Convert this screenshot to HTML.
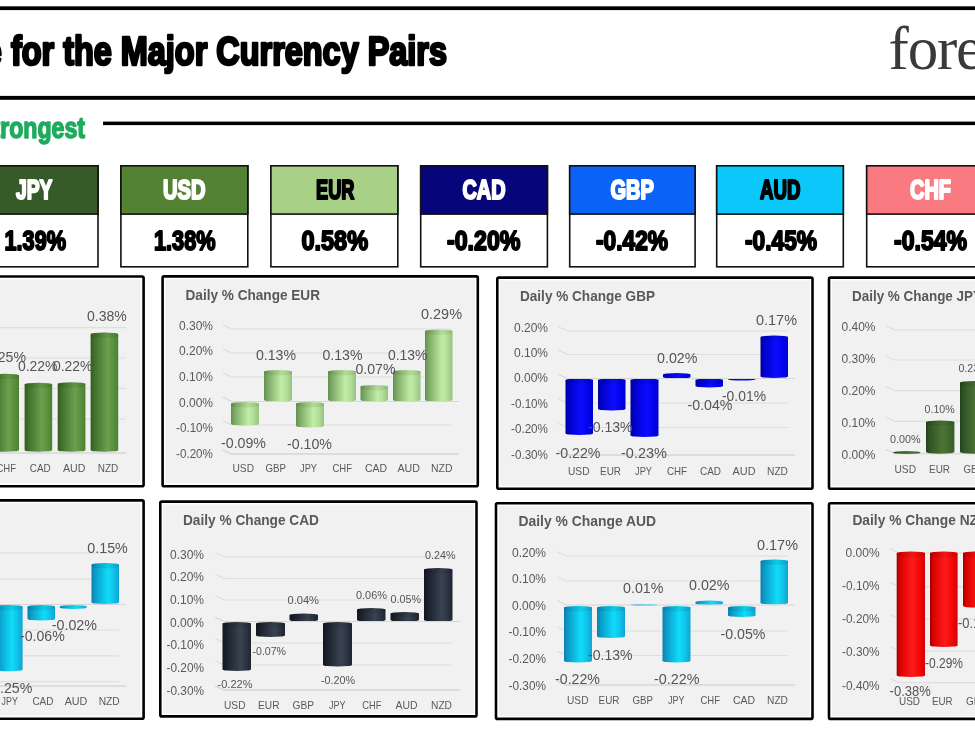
<!DOCTYPE html>
<html lang="en"><head><meta charset="utf-8"><title>Forex strongest to weakest</title>
<style>
html,body{margin:0;padding:0;background:#fff;}
body{width:975px;height:732px;overflow:hidden;font-family:"Liberation Sans",sans-serif;}
svg{display:block;font-family:"Liberation Sans",sans-serif;}
</style></head><body>
<svg width="975" height="732" viewBox="0 0 975 732">
<defs>
<linearGradient id="g_usd" x1="0" x2="1" y1="0" y2="0"><stop offset="0" stop-color="#345c20"/><stop offset="0.12" stop-color="#3f6e29"/><stop offset="0.62" stop-color="#6aa04e"/><stop offset="0.8" stop-color="#5c9340"/><stop offset="1" stop-color="#4c8030"/></linearGradient>
<linearGradient id="g_eur" x1="0" x2="1" y1="0" y2="0"><stop offset="0" stop-color="#648f50"/><stop offset="0.14" stop-color="#7dab66"/><stop offset="0.62" stop-color="#c1eda7"/><stop offset="0.8" stop-color="#b3df9a"/><stop offset="1" stop-color="#98c280"/></linearGradient>
<linearGradient id="g_gbp" x1="0" x2="1" y1="0" y2="0"><stop offset="0" stop-color="#00009a"/><stop offset="0.12" stop-color="#0000c8"/><stop offset="0.58" stop-color="#0c0cff"/><stop offset="0.8" stop-color="#0404ee"/><stop offset="1" stop-color="#0000d0"/></linearGradient>
<linearGradient id="g_jpy" x1="0" x2="1" y1="0" y2="0"><stop offset="0" stop-color="#22401a"/><stop offset="0.12" stop-color="#305424"/><stop offset="0.58" stop-color="#4b7535"/><stop offset="0.8" stop-color="#42692e"/><stop offset="1" stop-color="#375c27"/></linearGradient>
<linearGradient id="g_cyan" x1="0" x2="1" y1="0" y2="0"><stop offset="0" stop-color="#0a7fae"/><stop offset="0.12" stop-color="#0c98c6"/><stop offset="0.6" stop-color="#10dcf9"/><stop offset="0.8" stop-color="#10c4ec"/><stop offset="1" stop-color="#10a4d4"/></linearGradient>
<linearGradient id="g_cad" x1="0" x2="1" y1="0" y2="0"><stop offset="0" stop-color="#10151d"/><stop offset="0.12" stop-color="#1a202b"/><stop offset="0.63" stop-color="#394351"/><stop offset="0.8" stop-color="#2e3744"/><stop offset="1" stop-color="#1e2530"/></linearGradient>
<linearGradient id="g_nzd" x1="0" x2="1" y1="0" y2="0"><stop offset="0" stop-color="#9c0000"/><stop offset="0.1" stop-color="#d80000"/><stop offset="0.55" stop-color="#ff1a1a"/><stop offset="0.8" stop-color="#f20808"/><stop offset="1" stop-color="#da0000"/></linearGradient>
</defs>
<rect width="975" height="732" fill="#ffffff"/>
<rect x="-5" y="6.3" width="985" height="3.8" fill="#000"/>
<rect x="-5" y="95.9" width="985" height="3.9" fill="#000"/>
<text x="-117" y="64.6" font-size="40.5" font-weight="bold" textLength="564" lengthAdjust="spacingAndGlyphs" fill="#000" stroke="#000" stroke-width="2.7" font-family="Liberation Sans, sans-serif" stroke-linejoin="round">Change for the Major Currency Pairs</text>
<text x="888.6" y="69.4" font-size="61" fill="#3a3a3a" font-family="Liberation Serif, serif" letter-spacing="-1.2">forexlive</text>
<text x="85" y="137.5" font-size="29" font-weight="bold" text-anchor="end" textLength="108" lengthAdjust="spacingAndGlyphs" fill="#1eab5e" stroke="#1eab5e" stroke-width="1.5" font-family="Liberation Sans, sans-serif" stroke-linejoin="round">Strongest</text>
<rect x="103" y="121.6" width="880" height="3.5" fill="#000"/>
<rect x="-28.90" y="165.80" width="126.90" height="101.00" fill="#fff" stroke="#111" stroke-width="1.6"/>
<rect x="-28.90" y="165.80" width="126.90" height="48.30" fill="#375a29" stroke="#111" stroke-width="1.6"/>
<text x="16" y="199.2" font-size="28.5" font-weight="bold" textLength="36.5" lengthAdjust="spacingAndGlyphs" fill="#fff" stroke="#fff" stroke-width="2.2" font-family="Liberation Sans, sans-serif" stroke-linejoin="round">JPY</text>
<text x="4.5" y="249.6" font-size="28.5" font-weight="bold" textLength="61.5" lengthAdjust="spacingAndGlyphs" fill="#000" stroke="#000" stroke-width="2" font-family="Liberation Sans, sans-serif" stroke-linejoin="round">1.39%</text>
<rect x="120.90" y="165.80" width="126.90" height="101.00" fill="#fff" stroke="#111" stroke-width="1.6"/>
<rect x="120.90" y="165.80" width="126.90" height="48.30" fill="#548235" stroke="#111" stroke-width="1.6"/>
<text x="163" y="199.2" font-size="28.5" font-weight="bold" textLength="42.5" lengthAdjust="spacingAndGlyphs" fill="#fff" stroke="#fff" stroke-width="2.2" font-family="Liberation Sans, sans-serif" stroke-linejoin="round">USD</text>
<text x="154" y="249.6" font-size="28.5" font-weight="bold" textLength="61.5" lengthAdjust="spacingAndGlyphs" fill="#000" stroke="#000" stroke-width="2" font-family="Liberation Sans, sans-serif" stroke-linejoin="round">1.38%</text>
<rect x="270.90" y="165.80" width="126.90" height="101.00" fill="#fff" stroke="#111" stroke-width="1.6"/>
<rect x="270.90" y="165.80" width="126.90" height="48.30" fill="#a8d087" stroke="#111" stroke-width="1.6"/>
<text x="316" y="199.2" font-size="28.5" font-weight="bold" textLength="38.5" lengthAdjust="spacingAndGlyphs" fill="#000" stroke="#000" stroke-width="2.2" font-family="Liberation Sans, sans-serif" stroke-linejoin="round">EUR</text>
<text x="301.5" y="249.6" font-size="28.5" font-weight="bold" textLength="66.5" lengthAdjust="spacingAndGlyphs" fill="#000" stroke="#000" stroke-width="2" font-family="Liberation Sans, sans-serif" stroke-linejoin="round">0.58%</text>
<rect x="420.70" y="165.80" width="126.70" height="101.00" fill="#fff" stroke="#111" stroke-width="1.6"/>
<rect x="420.70" y="165.80" width="126.70" height="48.30" fill="#06067a" stroke="#111" stroke-width="1.6"/>
<text x="462.5" y="199.2" font-size="28.5" font-weight="bold" textLength="43.0" lengthAdjust="spacingAndGlyphs" fill="#fff" stroke="#fff" stroke-width="2.2" font-family="Liberation Sans, sans-serif" stroke-linejoin="round">CAD</text>
<text x="447" y="249.6" font-size="28.5" font-weight="bold" textLength="73.5" lengthAdjust="spacingAndGlyphs" fill="#000" stroke="#000" stroke-width="2" font-family="Liberation Sans, sans-serif" stroke-linejoin="round">-0.20%</text>
<rect x="569.70" y="165.80" width="125.40" height="101.00" fill="#fff" stroke="#111" stroke-width="1.6"/>
<rect x="569.70" y="165.80" width="125.40" height="48.30" fill="#0a62f6" stroke="#111" stroke-width="1.6"/>
<text x="610.5" y="199.2" font-size="28.5" font-weight="bold" textLength="43.5" lengthAdjust="spacingAndGlyphs" fill="#fff" stroke="#fff" stroke-width="2.2" font-family="Liberation Sans, sans-serif" stroke-linejoin="round">GBP</text>
<text x="596" y="249.6" font-size="28.5" font-weight="bold" textLength="72.0" lengthAdjust="spacingAndGlyphs" fill="#000" stroke="#000" stroke-width="2" font-family="Liberation Sans, sans-serif" stroke-linejoin="round">-0.42%</text>
<rect x="716.70" y="165.80" width="126.60" height="101.00" fill="#fff" stroke="#111" stroke-width="1.6"/>
<rect x="716.70" y="165.80" width="126.60" height="48.30" fill="#0cc8fa" stroke="#111" stroke-width="1.6"/>
<text x="760" y="199.2" font-size="28.5" font-weight="bold" textLength="40.5" lengthAdjust="spacingAndGlyphs" fill="#000" stroke="#000" stroke-width="2.2" font-family="Liberation Sans, sans-serif" stroke-linejoin="round">AUD</text>
<text x="745" y="249.6" font-size="28.5" font-weight="bold" textLength="72.0" lengthAdjust="spacingAndGlyphs" fill="#000" stroke="#000" stroke-width="2" font-family="Liberation Sans, sans-serif" stroke-linejoin="round">-0.45%</text>
<rect x="866.70" y="165.80" width="126.90" height="101.00" fill="#fff" stroke="#111" stroke-width="1.6"/>
<rect x="866.70" y="165.80" width="126.90" height="48.30" fill="#fa7a82" stroke="#111" stroke-width="1.6"/>
<text x="910" y="199.2" font-size="28.5" font-weight="bold" textLength="41.0" lengthAdjust="spacingAndGlyphs" fill="#fff" stroke="#fff" stroke-width="2.2" font-family="Liberation Sans, sans-serif" stroke-linejoin="round">CHF</text>
<text x="894" y="249.6" font-size="28.5" font-weight="bold" textLength="73.0" lengthAdjust="spacingAndGlyphs" fill="#000" stroke="#000" stroke-width="2" font-family="Liberation Sans, sans-serif" stroke-linejoin="round">-0.54%</text>
<g>
<rect x="-172.7" y="276.5" width="316.29999999999995" height="209.80000000000004" rx="1.5" fill="#fff" stroke="#000" stroke-width="2.6"/>
<rect x="-169.8" y="279.4" width="310.5" height="204.0" fill="#f1f1f1"/>
<path d="M-129.3,323.5 L-120,327.7 L126,327.7" fill="none" stroke="#dedede" stroke-width="1.2"/>
<path d="M-129.3,353.8 L-120,358 L126,358" fill="none" stroke="#dedede" stroke-width="1.2"/>
<path d="M-129.3,384.3 L-120,388.5 L126,388.5" fill="none" stroke="#dedede" stroke-width="1.2"/>
<path d="M-129.3,414.8 L-120,419 L126,419" fill="none" stroke="#dedede" stroke-width="1.2"/>
<path d="M-129.3,448.8 L-120,453 L126,453" fill="none" stroke="#d6d6d6" stroke-width="1.3"/>
<path d="M-8.5,375.40000000000003 A13.75,1.6 0 0 1 19,375.40000000000003 L19,450.2 A13.75,1.6 0 0 1 -8.5,450.2 Z" fill="url(#g_usd)"/>
<path d="M-8.5,375.40000000000003 A13.75,1.6 0 0 1 19,375.40000000000003 L19,377.6 A13.75,1.6 0 0 1 -8.5,377.6 Z" fill="#000" fill-opacity="0.07"/>
<path d="M24.6,384.3 A13.8,1.6 0 0 1 52.2,384.3 L52.2,450.2 A13.8,1.6 0 0 1 24.6,450.2 Z" fill="url(#g_usd)"/>
<path d="M24.6,384.3 A13.8,1.6 0 0 1 52.2,384.3 L52.2,386.5 A13.8,1.6 0 0 1 24.6,386.5 Z" fill="#000" fill-opacity="0.07"/>
<path d="M57.7,383.90000000000003 A13.850000000000001,1.6 0 0 1 85.4,383.90000000000003 L85.4,450.2 A13.850000000000001,1.6 0 0 1 57.7,450.2 Z" fill="url(#g_usd)"/>
<path d="M57.7,383.90000000000003 A13.850000000000001,1.6 0 0 1 85.4,383.90000000000003 L85.4,386.1 A13.850000000000001,1.6 0 0 1 57.7,386.1 Z" fill="#000" fill-opacity="0.07"/>
<path d="M90.6,334.1 A13.800000000000004,1.6 0 0 1 118.2,334.1 L118.2,450.2 A13.800000000000004,1.6 0 0 1 90.6,450.2 Z" fill="url(#g_usd)"/>
<path d="M90.6,334.1 A13.800000000000004,1.6 0 0 1 118.2,334.1 L118.2,336.3 A13.800000000000004,1.6 0 0 1 90.6,336.3 Z" fill="#000" fill-opacity="0.07"/>
<text x="-14.0" y="362.0" font-size="14.6" fill="#555" font-weight="normal" text-anchor="start" textLength="40.0" lengthAdjust="spacingAndGlyphs" >0.25%</text>
<text x="18.0" y="370.7" font-size="14.6" fill="#555" font-weight="normal" text-anchor="start" textLength="39.5" lengthAdjust="spacingAndGlyphs" >0.22%</text>
<text x="53.0" y="370.7" font-size="14.6" fill="#555" font-weight="normal" text-anchor="start" textLength="39.5" lengthAdjust="spacingAndGlyphs" >0.22%</text>
<text x="87.0" y="320.7" font-size="14.6" fill="#555" font-weight="normal" text-anchor="start" textLength="39.8" lengthAdjust="spacingAndGlyphs" >0.38%</text>
<text x="-3.5" y="471.8" font-size="10.6" fill="#595959" font-weight="normal" text-anchor="start" textLength="19.5" lengthAdjust="spacingAndGlyphs" >CHF</text>
<text x="29.8" y="471.8" font-size="10.6" fill="#595959" font-weight="normal" text-anchor="start" textLength="20.9" lengthAdjust="spacingAndGlyphs" >CAD</text>
<text x="63.0" y="471.8" font-size="10.6" fill="#595959" font-weight="normal" text-anchor="start" textLength="22.4" lengthAdjust="spacingAndGlyphs" >AUD</text>
<text x="97.7" y="471.8" font-size="10.6" fill="#595959" font-weight="normal" text-anchor="start" textLength="20.5" lengthAdjust="spacingAndGlyphs" >NZD</text>
</g>
<g>
<rect x="162.60000000000002" y="276.40000000000003" width="315.2" height="209.9" rx="1.5" fill="#fff" stroke="#000" stroke-width="2.6"/>
<rect x="165.5" y="279.3" width="309.4" height="204.1" fill="#f1f1f1"/>
<text x="185.5" y="299.5" font-size="13.8" fill="#595959" font-weight="bold" text-anchor="start" textLength="134.5" lengthAdjust="spacingAndGlyphs" >Daily % Change EUR</text>
<text x="179.0" y="329.9" font-size="12.4" fill="#595959" font-weight="normal" text-anchor="start" textLength="34.0" lengthAdjust="spacingAndGlyphs" >0.30%</text>
<text x="179.0" y="355.4" font-size="12.4" fill="#595959" font-weight="normal" text-anchor="start" textLength="34.0" lengthAdjust="spacingAndGlyphs" >0.20%</text>
<text x="179.0" y="381.4" font-size="12.4" fill="#595959" font-weight="normal" text-anchor="start" textLength="34.0" lengthAdjust="spacingAndGlyphs" >0.10%</text>
<text x="179.0" y="406.9" font-size="12.4" fill="#595959" font-weight="normal" text-anchor="start" textLength="34.0" lengthAdjust="spacingAndGlyphs" >0.00%</text>
<text x="176.0" y="432.4" font-size="12.4" fill="#595959" font-weight="normal" text-anchor="start" textLength="37.0" lengthAdjust="spacingAndGlyphs" >-0.10%</text>
<text x="176.0" y="457.7" font-size="12.4" fill="#595959" font-weight="normal" text-anchor="start" textLength="37.0" lengthAdjust="spacingAndGlyphs" >-0.20%</text>
<path d="M222.7,324.8 L232,329 L452,329" fill="none" stroke="#dedede" stroke-width="1.2"/>
<path d="M222.7,348.8 L232,353 L452,353" fill="none" stroke="#dedede" stroke-width="1.2"/>
<path d="M222.7,372.8 L232,377 L452,377" fill="none" stroke="#dedede" stroke-width="1.2"/>
<path d="M222.7,420.8 L232,425 L452,425" fill="none" stroke="#dedede" stroke-width="1.2"/>
<path d="M222.7,449.8 L232,454 L459,454" fill="none" stroke="#d6d6d6" stroke-width="1.3"/>
<path d="M231,403.6 A14.0,1.6 0 0 1 259,403.6 L259,423.9 A14.0,1.6 0 0 1 231,423.9 Z" fill="url(#g_eur)"/>
<path d="M231,403.6 A14.0,1.6 0 0 1 259,403.6 L259,405.8 A14.0,1.6 0 0 1 231,405.8 Z" fill="#000" fill-opacity="0.07"/>
<path d="M264,371.6 A14.0,1.6 0 0 1 292,371.6 L292,399.9 A14.0,1.6 0 0 1 264,399.9 Z" fill="url(#g_eur)"/>
<path d="M264,371.6 A14.0,1.6 0 0 1 292,371.6 L292,373.8 A14.0,1.6 0 0 1 264,373.8 Z" fill="#000" fill-opacity="0.07"/>
<path d="M296,403.6 A14.0,1.6 0 0 1 324,403.6 L324,425.9 A14.0,1.6 0 0 1 296,425.9 Z" fill="url(#g_eur)"/>
<path d="M296,403.6 A14.0,1.6 0 0 1 324,403.6 L324,405.8 A14.0,1.6 0 0 1 296,405.8 Z" fill="#000" fill-opacity="0.07"/>
<path d="M328,371.6 A14.0,1.6 0 0 1 356,371.6 L356,399.9 A14.0,1.6 0 0 1 328,399.9 Z" fill="url(#g_eur)"/>
<path d="M328,371.6 A14.0,1.6 0 0 1 356,371.6 L356,373.8 A14.0,1.6 0 0 1 328,373.8 Z" fill="#000" fill-opacity="0.07"/>
<path d="M360.5,386.6 A13.75,1.6 0 0 1 388,386.6 L388,399.9 A13.75,1.6 0 0 1 360.5,399.9 Z" fill="url(#g_eur)"/>
<path d="M360.5,386.6 A13.75,1.6 0 0 1 388,386.6 L388,388.8 A13.75,1.6 0 0 1 360.5,388.8 Z" fill="#000" fill-opacity="0.07"/>
<path d="M393,371.6 A13.75,1.6 0 0 1 420.5,371.6 L420.5,399.9 A13.75,1.6 0 0 1 393,399.9 Z" fill="url(#g_eur)"/>
<path d="M393,371.6 A13.75,1.6 0 0 1 420.5,371.6 L420.5,373.8 A13.75,1.6 0 0 1 393,373.8 Z" fill="#000" fill-opacity="0.07"/>
<path d="M425,331.1 A13.75,1.6 0 0 1 452.5,331.1 L452.5,399.9 A13.75,1.6 0 0 1 425,399.9 Z" fill="url(#g_eur)"/>
<path d="M425,331.1 A13.75,1.6 0 0 1 452.5,331.1 L452.5,333.3 A13.75,1.6 0 0 1 425,333.3 Z" fill="#000" fill-opacity="0.07"/>
<text x="221.0" y="447.5" font-size="14.6" fill="#555" font-weight="normal" text-anchor="start" textLength="45.0" lengthAdjust="spacingAndGlyphs" >-0.09%</text>
<text x="256.0" y="359.5" font-size="14.6" fill="#555" font-weight="normal" text-anchor="start" textLength="40.0" lengthAdjust="spacingAndGlyphs" >0.13%</text>
<text x="287.0" y="448.5" font-size="14.6" fill="#555" font-weight="normal" text-anchor="start" textLength="45.0" lengthAdjust="spacingAndGlyphs" >-0.10%</text>
<text x="322.5" y="359.5" font-size="14.6" fill="#555" font-weight="normal" text-anchor="start" textLength="40.0" lengthAdjust="spacingAndGlyphs" >0.13%</text>
<text x="355.5" y="374.0" font-size="14.6" fill="#555" font-weight="normal" text-anchor="start" textLength="40.0" lengthAdjust="spacingAndGlyphs" >0.07%</text>
<text x="388.0" y="359.5" font-size="14.6" fill="#555" font-weight="normal" text-anchor="start" textLength="39.5" lengthAdjust="spacingAndGlyphs" >0.13%</text>
<text x="421.0" y="319.0" font-size="14.6" fill="#555" font-weight="normal" text-anchor="start" textLength="41.0" lengthAdjust="spacingAndGlyphs" >0.29%</text>
<text x="232.5" y="471.8" font-size="10.6" fill="#595959" font-weight="normal" text-anchor="start" textLength="21.5" lengthAdjust="spacingAndGlyphs" >USD</text>
<text x="265.5" y="471.8" font-size="10.6" fill="#595959" font-weight="normal" text-anchor="start" textLength="20.5" lengthAdjust="spacingAndGlyphs" >GBP</text>
<text x="300.0" y="471.8" font-size="10.6" fill="#595959" font-weight="normal" text-anchor="start" textLength="17.0" lengthAdjust="spacingAndGlyphs" >JPY</text>
<text x="332.5" y="471.8" font-size="10.6" fill="#595959" font-weight="normal" text-anchor="start" textLength="19.5" lengthAdjust="spacingAndGlyphs" >CHF</text>
<text x="365.0" y="471.8" font-size="10.6" fill="#595959" font-weight="normal" text-anchor="start" textLength="22.0" lengthAdjust="spacingAndGlyphs" >CAD</text>
<text x="397.5" y="471.8" font-size="10.6" fill="#595959" font-weight="normal" text-anchor="start" textLength="22.5" lengthAdjust="spacingAndGlyphs" >AUD</text>
<text x="431.0" y="471.8" font-size="10.6" fill="#595959" font-weight="normal" text-anchor="start" textLength="21.5" lengthAdjust="spacingAndGlyphs" >NZD</text>
</g>
<path d="M222.7,397.3 L232,401.5 L459,401.5" fill="none" stroke="#d6d6d6" stroke-width="1.2"/>
<g>
<rect x="497.3" y="277.6" width="315.19999999999993" height="211.1" rx="1.5" fill="#fff" stroke="#000" stroke-width="2.6"/>
<rect x="500.2" y="280.5" width="309.4" height="205.3" fill="#f1f1f1"/>
<text x="520.0" y="300.5" font-size="13.8" fill="#595959" font-weight="bold" text-anchor="start" textLength="135.0" lengthAdjust="spacingAndGlyphs" >Daily % Change GBP</text>
<text x="514.0" y="331.9" font-size="12.4" fill="#595959" font-weight="normal" text-anchor="start" textLength="34.0" lengthAdjust="spacingAndGlyphs" >0.20%</text>
<text x="514.0" y="356.9" font-size="12.4" fill="#595959" font-weight="normal" text-anchor="start" textLength="34.0" lengthAdjust="spacingAndGlyphs" >0.10%</text>
<text x="514.0" y="382.4" font-size="12.4" fill="#595959" font-weight="normal" text-anchor="start" textLength="34.0" lengthAdjust="spacingAndGlyphs" >0.00%</text>
<text x="511.0" y="408.4" font-size="12.4" fill="#595959" font-weight="normal" text-anchor="start" textLength="37.0" lengthAdjust="spacingAndGlyphs" >-0.10%</text>
<text x="511.0" y="433.4" font-size="12.4" fill="#595959" font-weight="normal" text-anchor="start" textLength="37.0" lengthAdjust="spacingAndGlyphs" >-0.20%</text>
<text x="511.0" y="459.4" font-size="12.4" fill="#595959" font-weight="normal" text-anchor="start" textLength="37.0" lengthAdjust="spacingAndGlyphs" >-0.30%</text>
<path d="M558.2,326.8 L567.5,331 L788,331" fill="none" stroke="#dedede" stroke-width="1.2"/>
<path d="M558.2,350.3 L567.5,354.5 L788,354.5" fill="none" stroke="#dedede" stroke-width="1.2"/>
<path d="M558.2,398.8 L567.5,403 L788,403" fill="none" stroke="#dedede" stroke-width="1.2"/>
<path d="M558.2,423.3 L567.5,427.5 L788,427.5" fill="none" stroke="#dedede" stroke-width="1.2"/>
<path d="M558.2,450.8 L567.5,455 L795,455" fill="none" stroke="#d6d6d6" stroke-width="1.3"/>
<path d="M565.5,380.1 A13.75,1.6 0 0 1 593,380.1 L593,433.4 A13.75,1.6 0 0 1 565.5,433.4 Z" fill="url(#g_gbp)"/>
<path d="M565.5,380.1 A13.75,1.6 0 0 1 593,380.1 L593,382.3 A13.75,1.6 0 0 1 565.5,382.3 Z" fill="#000" fill-opacity="0.07"/>
<path d="M598,380.1 A13.75,1.6 0 0 1 625.5,380.1 L625.5,408.9 A13.75,1.6 0 0 1 598,408.9 Z" fill="url(#g_gbp)"/>
<path d="M598,380.1 A13.75,1.6 0 0 1 625.5,380.1 L625.5,382.3 A13.75,1.6 0 0 1 598,382.3 Z" fill="#000" fill-opacity="0.07"/>
<path d="M630.5,380.1 A14.0,1.6 0 0 1 658.5,380.1 L658.5,435.4 A14.0,1.6 0 0 1 630.5,435.4 Z" fill="url(#g_gbp)"/>
<path d="M630.5,380.1 A14.0,1.6 0 0 1 658.5,380.1 L658.5,382.3 A14.0,1.6 0 0 1 630.5,382.3 Z" fill="#000" fill-opacity="0.07"/>
<path d="M663,374.6 A13.75,1.6 0 0 1 690.5,374.6 L690.5,376.9 A13.75,1.6 0 0 1 663,376.9 Z" fill="url(#g_gbp)"/>
<path d="M695.5,380.1 A13.75,1.6 0 0 1 723,380.1 L723,385.9 A13.75,1.6 0 0 1 695.5,385.9 Z" fill="url(#g_gbp)"/>
<path d="M695.5,380.1 A13.75,1.6 0 0 1 723,380.1 L723,382.3 A13.75,1.6 0 0 1 695.5,382.3 Z" fill="#000" fill-opacity="0.07"/>
<ellipse cx="741.75" cy="379.25" rx="13.75" ry="1.25" fill="url(#g_gbp)"/>
<path d="M760.5,337.1 A13.75,1.6 0 0 1 788,337.1 L788,376.4 A13.75,1.6 0 0 1 760.5,376.4 Z" fill="url(#g_gbp)"/>
<path d="M760.5,337.1 A13.75,1.6 0 0 1 788,337.1 L788,339.3 A13.75,1.6 0 0 1 760.5,339.3 Z" fill="#000" fill-opacity="0.07"/>
<text x="555.5" y="457.5" font-size="14.6" fill="#555" font-weight="normal" text-anchor="start" textLength="45.0" lengthAdjust="spacingAndGlyphs" >-0.22%</text>
<text x="588.0" y="432.0" font-size="14.6" fill="#555" font-weight="normal" text-anchor="start" textLength="44.5" lengthAdjust="spacingAndGlyphs" >-0.13%</text>
<text x="621.0" y="457.5" font-size="14.6" fill="#555" font-weight="normal" text-anchor="start" textLength="46.0" lengthAdjust="spacingAndGlyphs" >-0.23%</text>
<text x="657.0" y="363.0" font-size="14.6" fill="#555" font-weight="normal" text-anchor="start" textLength="40.5" lengthAdjust="spacingAndGlyphs" >0.02%</text>
<text x="687.5" y="409.5" font-size="14.6" fill="#555" font-weight="normal" text-anchor="start" textLength="45.0" lengthAdjust="spacingAndGlyphs" >-0.04%</text>
<text x="722.0" y="401.0" font-size="14.6" fill="#555" font-weight="normal" text-anchor="start" textLength="44.0" lengthAdjust="spacingAndGlyphs" >-0.01%</text>
<text x="756.0" y="324.5" font-size="14.6" fill="#555" font-weight="normal" text-anchor="start" textLength="41.0" lengthAdjust="spacingAndGlyphs" >0.17%</text>
<text x="568.0" y="474.8" font-size="10.6" fill="#595959" font-weight="normal" text-anchor="start" textLength="21.5" lengthAdjust="spacingAndGlyphs" >USD</text>
<text x="600.0" y="474.8" font-size="10.6" fill="#595959" font-weight="normal" text-anchor="start" textLength="21.0" lengthAdjust="spacingAndGlyphs" >EUR</text>
<text x="635.0" y="474.8" font-size="10.6" fill="#595959" font-weight="normal" text-anchor="start" textLength="17.0" lengthAdjust="spacingAndGlyphs" >JPY</text>
<text x="667.0" y="474.8" font-size="10.6" fill="#595959" font-weight="normal" text-anchor="start" textLength="20.0" lengthAdjust="spacingAndGlyphs" >CHF</text>
<text x="700.0" y="474.8" font-size="10.6" fill="#595959" font-weight="normal" text-anchor="start" textLength="21.0" lengthAdjust="spacingAndGlyphs" >CAD</text>
<text x="732.5" y="474.8" font-size="10.6" fill="#595959" font-weight="normal" text-anchor="start" textLength="23.0" lengthAdjust="spacingAndGlyphs" >AUD</text>
<text x="767.0" y="474.8" font-size="10.6" fill="#595959" font-weight="normal" text-anchor="start" textLength="21.0" lengthAdjust="spacingAndGlyphs" >NZD</text>
</g>
<path d="M558.2,374.3 L567.5,378.5 L795,378.5" fill="none" stroke="#d6d6d6" stroke-width="1.2"/>
<g>
<rect x="829.0" y="277.6" width="315.69999999999993" height="211.1" rx="1.5" fill="#fff" stroke="#000" stroke-width="2.6"/>
<rect x="831.9" y="280.5" width="309.9" height="205.3" fill="#f1f1f1"/>
<text x="852.0" y="301.0" font-size="13.8" fill="#595959" font-weight="bold" text-anchor="start" textLength="130.0" lengthAdjust="spacingAndGlyphs" >Daily % Change JPY</text>
<text x="841.5" y="331.4" font-size="12.4" fill="#595959" font-weight="normal" text-anchor="start" textLength="34.0" lengthAdjust="spacingAndGlyphs" >0.40%</text>
<text x="841.5" y="363.4" font-size="12.4" fill="#595959" font-weight="normal" text-anchor="start" textLength="34.0" lengthAdjust="spacingAndGlyphs" >0.30%</text>
<text x="841.5" y="395.1" font-size="12.4" fill="#595959" font-weight="normal" text-anchor="start" textLength="34.0" lengthAdjust="spacingAndGlyphs" >0.20%</text>
<text x="841.5" y="427.0" font-size="12.4" fill="#595959" font-weight="normal" text-anchor="start" textLength="34.0" lengthAdjust="spacingAndGlyphs" >0.10%</text>
<text x="841.5" y="459.4" font-size="12.4" fill="#595959" font-weight="normal" text-anchor="start" textLength="34.0" lengthAdjust="spacingAndGlyphs" >0.00%</text>
<path d="M885.7,325.8 L895,330 L1000,330" fill="none" stroke="#dedede" stroke-width="1.2"/>
<path d="M885.7,355.8 L895,360 L1000,360" fill="none" stroke="#dedede" stroke-width="1.2"/>
<path d="M885.7,386.5 L895,390.7 L1000,390.7" fill="none" stroke="#dedede" stroke-width="1.2"/>
<path d="M885.7,417.2 L895,421.4 L1000,421.4" fill="none" stroke="#dedede" stroke-width="1.2"/>
<path d="M885.7,449.5 L895,453.7 L1000,453.7" fill="none" stroke="#d6d6d6" stroke-width="1.3"/>
<path d="M893,452.6 A13.800000000000011,1.6 0 0 1 920.6,452.6 L920.6,452.4 A13.800000000000011,1.6 0 0 1 893,452.4 Z" fill="url(#g_jpy)"/>
<path d="M926,422.1 A14.199999999999989,1.6 0 0 1 954.4,422.1 L954.4,452.09999999999997 A14.199999999999989,1.6 0 0 1 926,452.09999999999997 Z" fill="url(#g_jpy)"/>
<path d="M926,422.1 A14.199999999999989,1.6 0 0 1 954.4,422.1 L954.4,424.3 A14.199999999999989,1.6 0 0 1 926,424.3 Z" fill="#000" fill-opacity="0.07"/>
<path d="M960,382.6 A14.0,1.6 0 0 1 988,382.6 L988,452.09999999999997 A14.0,1.6 0 0 1 960,452.09999999999997 Z" fill="url(#g_jpy)"/>
<path d="M960,382.6 A14.0,1.6 0 0 1 988,382.6 L988,384.8 A14.0,1.6 0 0 1 960,384.8 Z" fill="#000" fill-opacity="0.07"/>
<text x="890.0" y="443.0" font-size="11.4" fill="#555" font-weight="normal" text-anchor="start" textLength="30.6" lengthAdjust="spacingAndGlyphs" >0.00%</text>
<text x="924.6" y="412.8" font-size="11.4" fill="#555" font-weight="normal" text-anchor="start" textLength="30.1" lengthAdjust="spacingAndGlyphs" >0.10%</text>
<text x="958.4" y="372.0" font-size="11.4" fill="#555" font-weight="normal" text-anchor="start" textLength="30.1" lengthAdjust="spacingAndGlyphs" >0.23%</text>
<text x="894.5" y="473.4" font-size="10.6" fill="#595959" font-weight="normal" text-anchor="start" textLength="21.5" lengthAdjust="spacingAndGlyphs" >USD</text>
<text x="929.0" y="473.4" font-size="10.6" fill="#595959" font-weight="normal" text-anchor="start" textLength="21.0" lengthAdjust="spacingAndGlyphs" >EUR</text>
<text x="963.6" y="473.4" font-size="10.6" fill="#595959" font-weight="normal" text-anchor="start" textLength="20.4" lengthAdjust="spacingAndGlyphs" >GBP</text>
</g>
<g>
<rect x="-172.7" y="500.40000000000003" width="316.29999999999995" height="218.29999999999998" rx="1.5" fill="#fff" stroke="#000" stroke-width="2.6"/>
<rect x="-169.8" y="503.3" width="310.5" height="212.5" fill="#f1f1f1"/>
<path d="M-129.3,548.8 L-120,553 L119,553" fill="none" stroke="#dedede" stroke-width="1.2"/>
<path d="M-129.3,574.8 L-120,579 L119,579" fill="none" stroke="#dedede" stroke-width="1.2"/>
<path d="M-129.3,625.8 L-120,630 L119,630" fill="none" stroke="#dedede" stroke-width="1.2"/>
<path d="M-129.3,651.5999999999999 L-120,655.8 L119,655.8" fill="none" stroke="#dedede" stroke-width="1.2"/>
<path d="M-129.3,677.5 L-120,681.7 L119,681.7" fill="none" stroke="#dedede" stroke-width="1.2"/>
<path d="M-129.3,681.8 L-120,686 L126,686" fill="none" stroke="#d6d6d6" stroke-width="1.3"/>
<path d="M-5,606.6 A13.8,1.6 0 0 1 22.6,606.6 L22.6,669.6999999999999 A13.8,1.6 0 0 1 -5,669.6999999999999 Z" fill="url(#g_cyan)"/>
<path d="M-5,606.6 A13.8,1.6 0 0 1 22.6,606.6 L22.6,608.8000000000001 A13.8,1.6 0 0 1 -5,608.8000000000001 Z" fill="#000" fill-opacity="0.07"/>
<path d="M27.5,606.6 A13.75,1.6 0 0 1 55,606.6 L55,618.9 A13.75,1.6 0 0 1 27.5,618.9 Z" fill="url(#g_cyan)"/>
<path d="M27.5,606.6 A13.75,1.6 0 0 1 55,606.6 L55,608.8000000000001 A13.75,1.6 0 0 1 27.5,608.8000000000001 Z" fill="#000" fill-opacity="0.07"/>
<path d="M59.8,606.6 A13.450000000000003,1.6 0 0 1 86.7,606.6 L86.7,607.4 A13.450000000000003,1.6 0 0 1 59.8,607.4 Z" fill="url(#g_cyan)"/>
<path d="M91.5,564.6 A13.75,1.6 0 0 1 119,564.6 L119,602.4 A13.75,1.6 0 0 1 91.5,602.4 Z" fill="url(#g_cyan)"/>
<path d="M91.5,564.6 A13.75,1.6 0 0 1 119,564.6 L119,566.8000000000001 A13.75,1.6 0 0 1 91.5,566.8000000000001 Z" fill="#000" fill-opacity="0.07"/>
<text x="-12.7" y="693.0" font-size="14.6" fill="#555" font-weight="normal" text-anchor="start" textLength="45.0" lengthAdjust="spacingAndGlyphs" >-0.25%</text>
<text x="20.0" y="641.0" font-size="14.6" fill="#555" font-weight="normal" text-anchor="start" textLength="44.7" lengthAdjust="spacingAndGlyphs" >-0.06%</text>
<text x="51.8" y="630.0" font-size="14.6" fill="#555" font-weight="normal" text-anchor="start" textLength="45.2" lengthAdjust="spacingAndGlyphs" >-0.02%</text>
<text x="87.3" y="552.6" font-size="14.6" fill="#555" font-weight="normal" text-anchor="start" textLength="40.5" lengthAdjust="spacingAndGlyphs" >0.15%</text>
<text x="1.6" y="704.8" font-size="10.6" fill="#595959" font-weight="normal" text-anchor="start" textLength="16.2" lengthAdjust="spacingAndGlyphs" >JPY</text>
<text x="32.4" y="704.8" font-size="10.6" fill="#595959" font-weight="normal" text-anchor="start" textLength="21.0" lengthAdjust="spacingAndGlyphs" >CAD</text>
<text x="64.7" y="704.8" font-size="10.6" fill="#595959" font-weight="normal" text-anchor="start" textLength="22.7" lengthAdjust="spacingAndGlyphs" >AUD</text>
<text x="98.7" y="704.8" font-size="10.6" fill="#595959" font-weight="normal" text-anchor="start" textLength="21.0" lengthAdjust="spacingAndGlyphs" >NZD</text>
</g>
<path d="M-100,604.5 L126,604.5" fill="none" stroke="#d6d6d6" stroke-width="1.2"/>
<g>
<rect x="160.3" y="501.6" width="316.2" height="214.80000000000004" rx="1.5" fill="#fff" stroke="#000" stroke-width="2.6"/>
<rect x="163.2" y="504.5" width="310.4" height="209.0" fill="#f1f1f1"/>
<text x="183.0" y="524.5" font-size="13.8" fill="#595959" font-weight="bold" text-anchor="start" textLength="136.0" lengthAdjust="spacingAndGlyphs" >Daily % Change CAD</text>
<text x="170.0" y="559.4" font-size="12.4" fill="#595959" font-weight="normal" text-anchor="start" textLength="34.0" lengthAdjust="spacingAndGlyphs" >0.30%</text>
<text x="170.0" y="581.4" font-size="12.4" fill="#595959" font-weight="normal" text-anchor="start" textLength="34.0" lengthAdjust="spacingAndGlyphs" >0.20%</text>
<text x="170.0" y="604.4" font-size="12.4" fill="#595959" font-weight="normal" text-anchor="start" textLength="34.0" lengthAdjust="spacingAndGlyphs" >0.10%</text>
<text x="170.0" y="627.4" font-size="12.4" fill="#595959" font-weight="normal" text-anchor="start" textLength="34.0" lengthAdjust="spacingAndGlyphs" >0.00%</text>
<text x="166.5" y="649.4" font-size="12.4" fill="#595959" font-weight="normal" text-anchor="start" textLength="37.5" lengthAdjust="spacingAndGlyphs" >-0.10%</text>
<text x="166.5" y="671.9" font-size="12.4" fill="#595959" font-weight="normal" text-anchor="start" textLength="37.5" lengthAdjust="spacingAndGlyphs" >-0.20%</text>
<text x="166.5" y="695.4" font-size="12.4" fill="#595959" font-weight="normal" text-anchor="start" textLength="37.5" lengthAdjust="spacingAndGlyphs" >-0.30%</text>
<path d="M215.2,552.8 L224.5,557 L452.5,557" fill="none" stroke="#dedede" stroke-width="1.2"/>
<path d="M215.2,574.3 L224.5,578.5 L452.5,578.5" fill="none" stroke="#dedede" stroke-width="1.2"/>
<path d="M215.2,595.8 L224.5,600 L452.5,600" fill="none" stroke="#dedede" stroke-width="1.2"/>
<path d="M215.2,638.8 L224.5,643 L452.5,643" fill="none" stroke="#dedede" stroke-width="1.2"/>
<path d="M215.2,660.8 L224.5,665 L452.5,665" fill="none" stroke="#dedede" stroke-width="1.2"/>
<path d="M215.2,685.8 L224.5,690 L460,690" fill="none" stroke="#d6d6d6" stroke-width="1.3"/>
<path d="M222.5,623.6 A14.25,1.6 0 0 1 251,623.6 L251,669.4 A14.25,1.6 0 0 1 222.5,669.4 Z" fill="url(#g_cad)"/>
<path d="M222.5,623.6 A14.25,1.6 0 0 1 251,623.6 L251,625.8000000000001 A14.25,1.6 0 0 1 222.5,625.8000000000001 Z" fill="#000" fill-opacity="0.07"/>
<path d="M256,623.6 A14.5,1.6 0 0 1 285,623.6 L285,635.4 A14.5,1.6 0 0 1 256,635.4 Z" fill="url(#g_cad)"/>
<path d="M256,623.6 A14.5,1.6 0 0 1 285,623.6 L285,625.8000000000001 A14.5,1.6 0 0 1 256,625.8000000000001 Z" fill="#000" fill-opacity="0.07"/>
<path d="M289.5,615.1 A14.25,1.6 0 0 1 318,615.1 L318,619.9 A14.25,1.6 0 0 1 289.5,619.9 Z" fill="url(#g_cad)"/>
<path d="M289.5,615.1 A14.25,1.6 0 0 1 318,615.1 L318,617.3000000000001 A14.25,1.6 0 0 1 289.5,617.3000000000001 Z" fill="#000" fill-opacity="0.07"/>
<path d="M323,623.6 A14.5,1.6 0 0 1 352,623.6 L352,664.9 A14.5,1.6 0 0 1 323,664.9 Z" fill="url(#g_cad)"/>
<path d="M323,623.6 A14.5,1.6 0 0 1 352,623.6 L352,625.8000000000001 A14.5,1.6 0 0 1 323,625.8000000000001 Z" fill="#000" fill-opacity="0.07"/>
<path d="M357,609.6 A14.25,1.6 0 0 1 385.5,609.6 L385.5,619.9 A14.25,1.6 0 0 1 357,619.9 Z" fill="url(#g_cad)"/>
<path d="M357,609.6 A14.25,1.6 0 0 1 385.5,609.6 L385.5,611.8000000000001 A14.25,1.6 0 0 1 357,611.8000000000001 Z" fill="#000" fill-opacity="0.07"/>
<path d="M390.5,613.6 A14.25,1.6 0 0 1 419,613.6 L419,619.9 A14.25,1.6 0 0 1 390.5,619.9 Z" fill="url(#g_cad)"/>
<path d="M390.5,613.6 A14.25,1.6 0 0 1 419,613.6 L419,615.8000000000001 A14.25,1.6 0 0 1 390.5,615.8000000000001 Z" fill="#000" fill-opacity="0.07"/>
<path d="M424,569.6 A14.25,1.6 0 0 1 452.5,569.6 L452.5,619.9 A14.25,1.6 0 0 1 424,619.9 Z" fill="url(#g_cad)"/>
<path d="M424,569.6 A14.25,1.6 0 0 1 452.5,569.6 L452.5,571.8000000000001 A14.25,1.6 0 0 1 424,571.8000000000001 Z" fill="#000" fill-opacity="0.07"/>
<text x="217.5" y="688.0" font-size="11.4" fill="#555" font-weight="normal" text-anchor="start" textLength="35.0" lengthAdjust="spacingAndGlyphs" >-0.22%</text>
<text x="252.5" y="654.5" font-size="11.4" fill="#555" font-weight="normal" text-anchor="start" textLength="33.5" lengthAdjust="spacingAndGlyphs" >-0.07%</text>
<text x="287.5" y="603.5" font-size="11.4" fill="#555" font-weight="normal" text-anchor="start" textLength="31.5" lengthAdjust="spacingAndGlyphs" >0.04%</text>
<text x="321.0" y="684.0" font-size="11.4" fill="#555" font-weight="normal" text-anchor="start" textLength="34.0" lengthAdjust="spacingAndGlyphs" >-0.20%</text>
<text x="356.0" y="598.5" font-size="11.4" fill="#555" font-weight="normal" text-anchor="start" textLength="31.0" lengthAdjust="spacingAndGlyphs" >0.06%</text>
<text x="390.5" y="602.5" font-size="11.4" fill="#555" font-weight="normal" text-anchor="start" textLength="30.5" lengthAdjust="spacingAndGlyphs" >0.05%</text>
<text x="425.0" y="559.0" font-size="11.4" fill="#555" font-weight="normal" text-anchor="start" textLength="30.5" lengthAdjust="spacingAndGlyphs" >0.24%</text>
<text x="224.0" y="708.8" font-size="10.6" fill="#595959" font-weight="normal" text-anchor="start" textLength="21.5" lengthAdjust="spacingAndGlyphs" >USD</text>
<text x="258.0" y="708.8" font-size="10.6" fill="#595959" font-weight="normal" text-anchor="start" textLength="21.5" lengthAdjust="spacingAndGlyphs" >EUR</text>
<text x="292.5" y="708.8" font-size="10.6" fill="#595959" font-weight="normal" text-anchor="start" textLength="21.5" lengthAdjust="spacingAndGlyphs" >GBP</text>
<text x="329.0" y="708.8" font-size="10.6" fill="#595959" font-weight="normal" text-anchor="start" textLength="16.5" lengthAdjust="spacingAndGlyphs" >JPY</text>
<text x="362.3" y="708.8" font-size="10.6" fill="#595959" font-weight="normal" text-anchor="start" textLength="19.2" lengthAdjust="spacingAndGlyphs" >CHF</text>
<text x="395.5" y="708.8" font-size="10.6" fill="#595959" font-weight="normal" text-anchor="start" textLength="22.0" lengthAdjust="spacingAndGlyphs" >AUD</text>
<text x="431.0" y="708.8" font-size="10.6" fill="#595959" font-weight="normal" text-anchor="start" textLength="21.0" lengthAdjust="spacingAndGlyphs" >NZD</text>
</g>
<path d="M215.2,617.3 L224.5,621.5 L460,621.5" fill="none" stroke="#d6d6d6" stroke-width="1.2"/>
<g>
<rect x="496.0" y="503.2" width="316.49999999999994" height="215.70000000000007" rx="1.5" fill="#fff" stroke="#000" stroke-width="2.6"/>
<rect x="498.9" y="506.1" width="310.7" height="209.9" fill="#f1f1f1"/>
<text x="518.5" y="526.0" font-size="13.8" fill="#595959" font-weight="bold" text-anchor="start" textLength="137.5" lengthAdjust="spacingAndGlyphs" >Daily % Change AUD</text>
<text x="512.0" y="556.9" font-size="12.4" fill="#595959" font-weight="normal" text-anchor="start" textLength="34.0" lengthAdjust="spacingAndGlyphs" >0.20%</text>
<text x="512.0" y="583.4" font-size="12.4" fill="#595959" font-weight="normal" text-anchor="start" textLength="34.0" lengthAdjust="spacingAndGlyphs" >0.10%</text>
<text x="512.0" y="610.4" font-size="12.4" fill="#595959" font-weight="normal" text-anchor="start" textLength="34.0" lengthAdjust="spacingAndGlyphs" >0.00%</text>
<text x="508.5" y="636.4" font-size="12.4" fill="#595959" font-weight="normal" text-anchor="start" textLength="37.5" lengthAdjust="spacingAndGlyphs" >-0.10%</text>
<text x="508.5" y="663.4" font-size="12.4" fill="#595959" font-weight="normal" text-anchor="start" textLength="37.5" lengthAdjust="spacingAndGlyphs" >-0.20%</text>
<text x="508.5" y="689.9" font-size="12.4" fill="#595959" font-weight="normal" text-anchor="start" textLength="37.5" lengthAdjust="spacingAndGlyphs" >-0.30%</text>
<path d="M557.2,551.8 L566.5,556 L788,556" fill="none" stroke="#dedede" stroke-width="1.2"/>
<path d="M557.2,576.8 L566.5,581 L788,581" fill="none" stroke="#dedede" stroke-width="1.2"/>
<path d="M557.2,626.8 L566.5,631 L788,631" fill="none" stroke="#dedede" stroke-width="1.2"/>
<path d="M557.2,651.3 L566.5,655.5 L788,655.5" fill="none" stroke="#dedede" stroke-width="1.2"/>
<path d="M557.2,680.8 L566.5,685 L795,685" fill="none" stroke="#d6d6d6" stroke-width="1.3"/>
<path d="M564,607.6 A14.0,1.6 0 0 1 592,607.6 L592,660.9 A14.0,1.6 0 0 1 564,660.9 Z" fill="url(#g_cyan)"/>
<path d="M564,607.6 A14.0,1.6 0 0 1 592,607.6 L592,609.8000000000001 A14.0,1.6 0 0 1 564,609.8000000000001 Z" fill="#000" fill-opacity="0.07"/>
<path d="M597,607.6 A14.0,1.6 0 0 1 625,607.6 L625,636.4 A14.0,1.6 0 0 1 597,636.4 Z" fill="url(#g_cyan)"/>
<path d="M597,607.6 A14.0,1.6 0 0 1 625,607.6 L625,609.8000000000001 A14.0,1.6 0 0 1 597,609.8000000000001 Z" fill="#000" fill-opacity="0.07"/>
<ellipse cx="644.0" cy="604.8" rx="14.0" ry="0.9" fill="url(#g_cyan)"/>
<path d="M662.5,607.6 A14.0,1.6 0 0 1 690.5,607.6 L690.5,660.9 A14.0,1.6 0 0 1 662.5,660.9 Z" fill="url(#g_cyan)"/>
<path d="M662.5,607.6 A14.0,1.6 0 0 1 690.5,607.6 L690.5,609.8000000000001 A14.0,1.6 0 0 1 662.5,609.8000000000001 Z" fill="#000" fill-opacity="0.07"/>
<path d="M695.5,602.1 A13.75,1.6 0 0 1 723,602.1 L723,603.4 A13.75,1.6 0 0 1 695.5,603.4 Z" fill="url(#g_cyan)"/>
<path d="M728,607.6 A13.75,1.6 0 0 1 755.5,607.6 L755.5,615.4 A13.75,1.6 0 0 1 728,615.4 Z" fill="url(#g_cyan)"/>
<path d="M728,607.6 A13.75,1.6 0 0 1 755.5,607.6 L755.5,609.8000000000001 A13.75,1.6 0 0 1 728,609.8000000000001 Z" fill="#000" fill-opacity="0.07"/>
<path d="M760.5,561.1 A13.75,1.6 0 0 1 788,561.1 L788,602.9 A13.75,1.6 0 0 1 760.5,602.9 Z" fill="url(#g_cyan)"/>
<path d="M760.5,561.1 A13.75,1.6 0 0 1 788,561.1 L788,563.3000000000001 A13.75,1.6 0 0 1 760.5,563.3000000000001 Z" fill="#000" fill-opacity="0.07"/>
<text x="555.0" y="684.0" font-size="14.6" fill="#555" font-weight="normal" text-anchor="start" textLength="45.0" lengthAdjust="spacingAndGlyphs" >-0.22%</text>
<text x="588.0" y="660.0" font-size="14.6" fill="#555" font-weight="normal" text-anchor="start" textLength="44.5" lengthAdjust="spacingAndGlyphs" >-0.13%</text>
<text x="623.0" y="593.3" font-size="14.6" fill="#555" font-weight="normal" text-anchor="start" textLength="40.5" lengthAdjust="spacingAndGlyphs" >0.01%</text>
<text x="654.0" y="684.0" font-size="14.6" fill="#555" font-weight="normal" text-anchor="start" textLength="45.5" lengthAdjust="spacingAndGlyphs" >-0.22%</text>
<text x="689.0" y="589.5" font-size="14.6" fill="#555" font-weight="normal" text-anchor="start" textLength="40.5" lengthAdjust="spacingAndGlyphs" >0.02%</text>
<text x="720.5" y="639.0" font-size="14.6" fill="#555" font-weight="normal" text-anchor="start" textLength="45.0" lengthAdjust="spacingAndGlyphs" >-0.05%</text>
<text x="757.0" y="550.0" font-size="14.6" fill="#555" font-weight="normal" text-anchor="start" textLength="41.0" lengthAdjust="spacingAndGlyphs" >0.17%</text>
<text x="567.0" y="703.8" font-size="10.6" fill="#595959" font-weight="normal" text-anchor="start" textLength="21.5" lengthAdjust="spacingAndGlyphs" >USD</text>
<text x="598.5" y="703.8" font-size="10.6" fill="#595959" font-weight="normal" text-anchor="start" textLength="21.0" lengthAdjust="spacingAndGlyphs" >EUR</text>
<text x="632.5" y="703.8" font-size="10.6" fill="#595959" font-weight="normal" text-anchor="start" textLength="20.5" lengthAdjust="spacingAndGlyphs" >GBP</text>
<text x="668.0" y="703.8" font-size="10.6" fill="#595959" font-weight="normal" text-anchor="start" textLength="16.5" lengthAdjust="spacingAndGlyphs" >JPY</text>
<text x="700.5" y="703.8" font-size="10.6" fill="#595959" font-weight="normal" text-anchor="start" textLength="19.5" lengthAdjust="spacingAndGlyphs" >CHF</text>
<text x="733.0" y="703.8" font-size="10.6" fill="#595959" font-weight="normal" text-anchor="start" textLength="22.0" lengthAdjust="spacingAndGlyphs" >CAD</text>
<text x="767.0" y="703.8" font-size="10.6" fill="#595959" font-weight="normal" text-anchor="start" textLength="21.0" lengthAdjust="spacingAndGlyphs" >NZD</text>
</g>
<path d="M557.2,600.8 L566.5,605 L795,605" fill="none" stroke="#d6d6d6" stroke-width="1.2"/>
<g>
<rect x="829.0" y="503.2" width="315.69999999999993" height="215.70000000000007" rx="1.5" fill="#fff" stroke="#000" stroke-width="2.6"/>
<rect x="831.9" y="506.1" width="309.9" height="209.9" fill="#f1f1f1"/>
<text x="852.4" y="525.0" font-size="13.8" fill="#595959" font-weight="bold" text-anchor="start" textLength="135.6" lengthAdjust="spacingAndGlyphs" >Daily % Change NZD</text>
<text x="845.6" y="557.0" font-size="12.4" fill="#595959" font-weight="normal" text-anchor="start" textLength="34.0" lengthAdjust="spacingAndGlyphs" >0.00%</text>
<text x="842.1" y="590.0" font-size="12.4" fill="#595959" font-weight="normal" text-anchor="start" textLength="37.5" lengthAdjust="spacingAndGlyphs" >-0.10%</text>
<text x="842.1" y="623.0" font-size="12.4" fill="#595959" font-weight="normal" text-anchor="start" textLength="37.5" lengthAdjust="spacingAndGlyphs" >-0.20%</text>
<text x="842.1" y="656.4" font-size="12.4" fill="#595959" font-weight="normal" text-anchor="start" textLength="37.5" lengthAdjust="spacingAndGlyphs" >-0.30%</text>
<text x="842.1" y="689.7" font-size="12.4" fill="#595959" font-weight="normal" text-anchor="start" textLength="37.5" lengthAdjust="spacingAndGlyphs" >-0.40%</text>
<path d="M889.7,548.8 L899,553 L1000,553" fill="none" stroke="#dedede" stroke-width="1.2"/>
<path d="M889.7,582.4 L899,586.6 L1000,586.6" fill="none" stroke="#dedede" stroke-width="1.2"/>
<path d="M889.7,614.8 L899,619 L1000,619" fill="none" stroke="#dedede" stroke-width="1.2"/>
<path d="M889.7,646.8 L899,651 L1000,651" fill="none" stroke="#dedede" stroke-width="1.2"/>
<path d="M889.7,678.5 L899,682.7 L1000,682.7" fill="none" stroke="#dedede" stroke-width="1.2"/>
<path d="M896.7,553.2 A14.149999999999977,1.6 0 0 1 925,553.2 L925,675.4 A14.149999999999977,1.6 0 0 1 896.7,675.4 Z" fill="url(#g_nzd)"/>
<path d="M896.7,553.2 A14.149999999999977,1.6 0 0 1 925,553.2 L925,555.4000000000001 A14.149999999999977,1.6 0 0 1 896.7,555.4000000000001 Z" fill="#000" fill-opacity="0.07"/>
<path d="M930,553.2 A13.800000000000011,1.6 0 0 1 957.6,553.2 L957.6,645.4 A13.800000000000011,1.6 0 0 1 930,645.4 Z" fill="url(#g_nzd)"/>
<path d="M930,553.2 A13.800000000000011,1.6 0 0 1 957.6,553.2 L957.6,555.4000000000001 A13.800000000000011,1.6 0 0 1 930,555.4000000000001 Z" fill="#000" fill-opacity="0.07"/>
<path d="M963,553.2 A14.0,1.6 0 0 1 991,553.2 L991,606.0 A14.0,1.6 0 0 1 963,606.0 Z" fill="url(#g_nzd)"/>
<path d="M963,553.2 A14.0,1.6 0 0 1 991,553.2 L991,555.4000000000001 A14.0,1.6 0 0 1 963,555.4000000000001 Z" fill="#000" fill-opacity="0.07"/>
<text x="889.6" y="695.6" font-size="14.6" fill="#555" font-weight="normal" text-anchor="start" textLength="41.1" lengthAdjust="spacingAndGlyphs" >-0.38%</text>
<text x="925.0" y="667.5" font-size="14.6" fill="#555" font-weight="normal" text-anchor="start" textLength="38.0" lengthAdjust="spacingAndGlyphs" >-0.29%</text>
<text x="958.0" y="627.7" font-size="14.6" fill="#555" font-weight="normal" text-anchor="start" textLength="41.0" lengthAdjust="spacingAndGlyphs" >-0.17%</text>
<text x="899.0" y="704.8" font-size="10.6" fill="#595959" font-weight="normal" text-anchor="start" textLength="21.0" lengthAdjust="spacingAndGlyphs" >USD</text>
<text x="932.0" y="704.8" font-size="10.6" fill="#595959" font-weight="normal" text-anchor="start" textLength="20.7" lengthAdjust="spacingAndGlyphs" >EUR</text>
<text x="966.0" y="704.8" font-size="10.6" fill="#595959" font-weight="normal" text-anchor="start" textLength="21.0" lengthAdjust="spacingAndGlyphs" >GBP</text>
</g>
</svg>
</body></html>
